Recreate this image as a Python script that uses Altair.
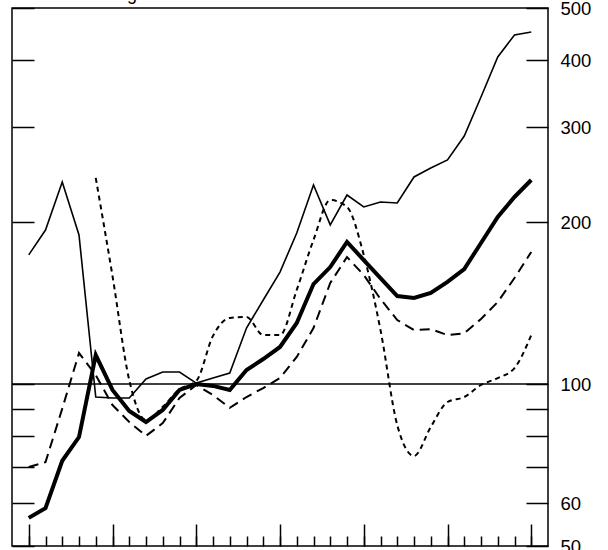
import altair as alt
import pandas as pd

# x positions (periods), 31 observations
periods = [0, 1, 2, 3, 4, 5, 6, 7, 8, 9, 10, 11, 12, 13, 14, 15,
           16, 17, 18, 19, 20, 21, 22, 23, 24, 25, 26, 27, 28, 29, 30]

thick = [56.4, 58.8, 72.0, 79.7, 113.2, 97.5, 89.1, 85.0, 89.5, 97.5, 100.0,
         99.2, 97.5, 106.2, 111.3, 117.2, 129.9, 153.4, 165.0, 183.7, 170.0,
         157.4, 145.7, 144.5, 147.7, 154.8, 163.6, 182.9, 204.5, 222.7, 239.5]

thin = [173.8, 193.3, 237.5, 189.3, 94.6, 94.2, 94.2, 102.2, 105.3, 105.3, 100.4,
        102.6, 104.8, 127.1, 143.3, 161.5, 190.9, 234.4, 197.6, 224.6, 213.4,
        218.0, 217.0, 242.6, 252.1, 260.9, 289.1, 341.6, 405.4, 445.6, 451.2]

longdash = [70.1, 71.6, 90.0, 114.2, 103.9, 91.4, 85.0, 80.1, 84.6, 94.2, 99.6,
            95.4, 90.3, 94.6, 98.3, 102.6, 112.3, 127.1, 154.1, 172.2, 159.5,
            143.9, 131.5, 126.0, 126.5, 123.3, 124.3, 132.1, 142.1, 157.4, 176.0]

dotted = [None, None, None, None, 241.6, 158.8, 101.7, 85.7, 90.7, 97.8, 101.3,
          122.9, 132.7, 133.2, 123.3, 123.3, 149.6, 185.3, 219.8, 213.4, 173.8,
          126.0, 83.9, 73.5, 83.2, 92.6, 94.6, 99.6, 102.6, 107.1, 123.3]

y_ticks = [50, 60, 70, 80, 90, 100, 200, 300, 400, 500]
x_major = [0, 5, 10, 15, 20, 25, 30]
ref_value = [100]
title_text = ["Log scale"]

FONT = "Liberation Sans"

xs = alt.Scale(domain=[-1, 31], nice=False, zero=False)
ys = alt.Scale(type="log", domain=[50, 500], nice=False)


def frame(vals):
    return pd.DataFrame({"period": periods, "value": vals})


tick_style = dict(domain=False, grid=False, labels=False, tickColor="black",
                  tickWidth=1.5, title=None)

axis_y_right = alt.Axis(orient="right", offset=-22, tickSize=22, values=y_ticks,
                        domain=False, grid=False, tickColor="black", tickWidth=1.5,
                        labelPadding=12, labelFont=FONT, labelFontSize=18.5,
                        labelColor="black", labelOverlap=False, format="d",
                        labelExpr="indexof([70,80,90], datum.value) >= 0 ? '' : datum.label",
                        title=None)
axis_y_left = alt.Axis(orient="left", offset=-22, tickSize=22, values=y_ticks, **tick_style)
axis_x_major = alt.Axis(orient="bottom", offset=-22, tickSize=22, values=x_major, **tick_style)
axis_x_minor = alt.Axis(orient="bottom", offset=-10, tickSize=10, values=periods, **tick_style)

rule = alt.Chart(pd.DataFrame({"v": ref_value})).mark_rule(
    color="black", strokeWidth=1.5
).encode(y=alt.Y("v:Q", scale=ys, axis=axis_y_right))

thin_line = alt.Chart(frame(thin)).mark_line(color="black", strokeWidth=1.6).encode(
    x=alt.X("period:Q", scale=xs, axis=axis_x_major),
    y=alt.Y("value:Q", scale=ys, axis=axis_y_left),
)

long_line = alt.Chart(frame(longdash)).mark_line(
    color="black", strokeWidth=2, strokeDash=[10, 6]
).encode(
    x=alt.X("period:Q", scale=xs, axis=axis_x_minor),
    y=alt.Y("value:Q", scale=ys, axis=None),
)

dot_line = alt.Chart(frame(dotted)).mark_line(
    color="black", strokeWidth=2, strokeDash=[5, 4], interpolate="monotone"
).encode(
    x=alt.X("period:Q", scale=xs, axis=None),
    y=alt.Y("value:Q", scale=ys, axis=None),
)

thick_line = alt.Chart(frame(thick)).mark_line(color="black", strokeWidth=4).encode(
    x=alt.X("period:Q", scale=xs, axis=None),
    y=alt.Y("value:Q", scale=ys, axis=None),
)

title = alt.Chart(pd.DataFrame({"t": title_text})).mark_text(
    font=FONT, fontSize=18, align="left", baseline="alphabetic", color="black"
).encode(x=alt.value(95), y=alt.value(-8), text="t:N")

chart = alt.layer(rule, thin_line, long_line, dot_line, thick_line, title).resolve_axis(
    x="independent", y="independent"
).properties(
    width=536, height=538,
    autosize=alt.AutoSizeParams(type="none"),
    padding={"left": 12, "top": 8, "right": 60, "bottom": 4},
    background="white",
).configure_view(stroke="black", strokeWidth=1.5)

chart.save("out.html", embed_options={"renderer": "svg", "actions": False})
